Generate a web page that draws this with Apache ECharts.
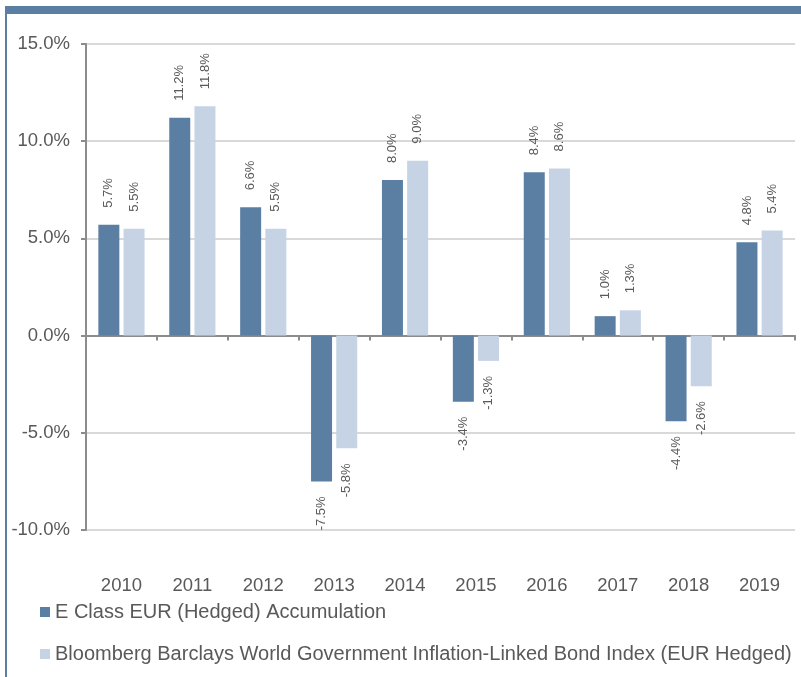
<!DOCTYPE html>
<html><head><meta charset="utf-8">
<script src="https://cdn.jsdelivr.net/npm/echarts@6/dist/echarts.min.js"></script>
<style>html,body{margin:0;padding:0;background:#fff}#c{width:801px;height:677px}</style>
</head><body><div id="c"></div>
<script>
const categories = ['2010','2011','2012','2013','2014','2015','2016','2017','2018','2019'];
const seriesNames = ['E Class EUR (Hedged) Accumulation','Bloomberg Barclays World Government Inflation-Linked Bond Index (EUR Hedged)'];
const fundValues = [5.7, 11.2, 6.6, -7.5, 8.0, -3.4, 8.4, 1.0, -4.4, 4.8];
const indexValues = [5.5, 11.8, 5.5, -5.8, 9.0, -1.3, 8.6, 1.3, -2.6, 5.4];
const yTicks = {min: -10, max: 15, interval: 5};
const colors = ['#5b7fa3', '#c5d3e4'];
const textColor = '#595959';
const FONT = 'Liberation Sans, Arial, sans-serif';

function mkData(vals){
  return vals.map(v => ({
    value: v,
    label: v >= 0
      ? {position: 'top', rotate: 90, align: 'left', verticalAlign: 'middle', distance: 17}
      : {position: 'bottom', rotate: 90, align: 'right', verticalAlign: 'middle', distance: 15}
  }));
}

const chart = echarts.init(document.getElementById('c'));
chart.setOption({
  animation: false,
  textStyle: {fontFamily: FONT},
  grid: {left: 86, right: 6, top: 44, bottom: 147, containLabel: false},
  legend: {
    orient: 'vertical', left: 40, top: 602, itemGap: 22, padding: 0,
    itemWidth: 10, itemHeight: 10, icon: 'rect',
    textStyle: {color: textColor, fontSize: 20, fontFamily: FONT},
    data: seriesNames
  },
  xAxis: [{
    type: 'category', data: categories,
    axisLine: {onZero: true, lineStyle: {color: '#8c8c8c', width: 2}},
    axisTick: {show: true, length: 5, lineStyle: {color: '#8c8c8c', width: 2}},
    axisLabel: {show: false}
  },{
    type: 'category', data: categories, position: 'bottom',
    axisLine: {show: false, onZero: false}, axisTick: {show: false},
    axisLabel: {color: textColor, fontSize: 18.5, margin: 46, fontFamily: FONT}
  }],
  yAxis: {
    type: 'value', min: yTicks.min, max: yTicks.max, interval: yTicks.interval,
    axisLine: {show: true, lineStyle: {color: '#8c8c8c', width: 2}},
    axisTick: {show: true, length: 5, inside: false, lineStyle: {color: '#8c8c8c', width: 2}},
    axisLabel: {color: textColor, fontSize: 18.5, margin: 16, fontFamily: FONT,
      formatter: v => v.toFixed(1) + '%'},
    splitLine: {show: true, lineStyle: {color: '#d9d9d9', width: 2}}
  },
  series: [{
    name: seriesNames[0], type: 'bar', xAxisIndex: 0, data: mkData(fundValues),
    barWidth: 21, barGap: '20%',
    itemStyle: {color: colors[0]},
    label: {show: true, color: textColor, fontSize: 13, fontFamily: FONT, formatter: p => p.value.toFixed(1) + '%'}
  },{
    name: seriesNames[1], type: 'bar', xAxisIndex: 0, data: mkData(indexValues),
    barWidth: 21, barGap: '20%',
    itemStyle: {color: colors[1]},
    label: {show: true, color: textColor, fontSize: 13, fontFamily: FONT, formatter: p => p.value.toFixed(1) + '%'}
  }],
  graphic: [
    {type: 'rect', shape: {x: 6, y: 6, width: 795, height: 8}, style: {fill: '#5b7fa3'}, silent: true},
    {type: 'rect', shape: {x: 5, y: 6, width: 2, height: 671}, style: {fill: '#5b7fa3'}, silent: true}
  ]
});
</script></body></html>
